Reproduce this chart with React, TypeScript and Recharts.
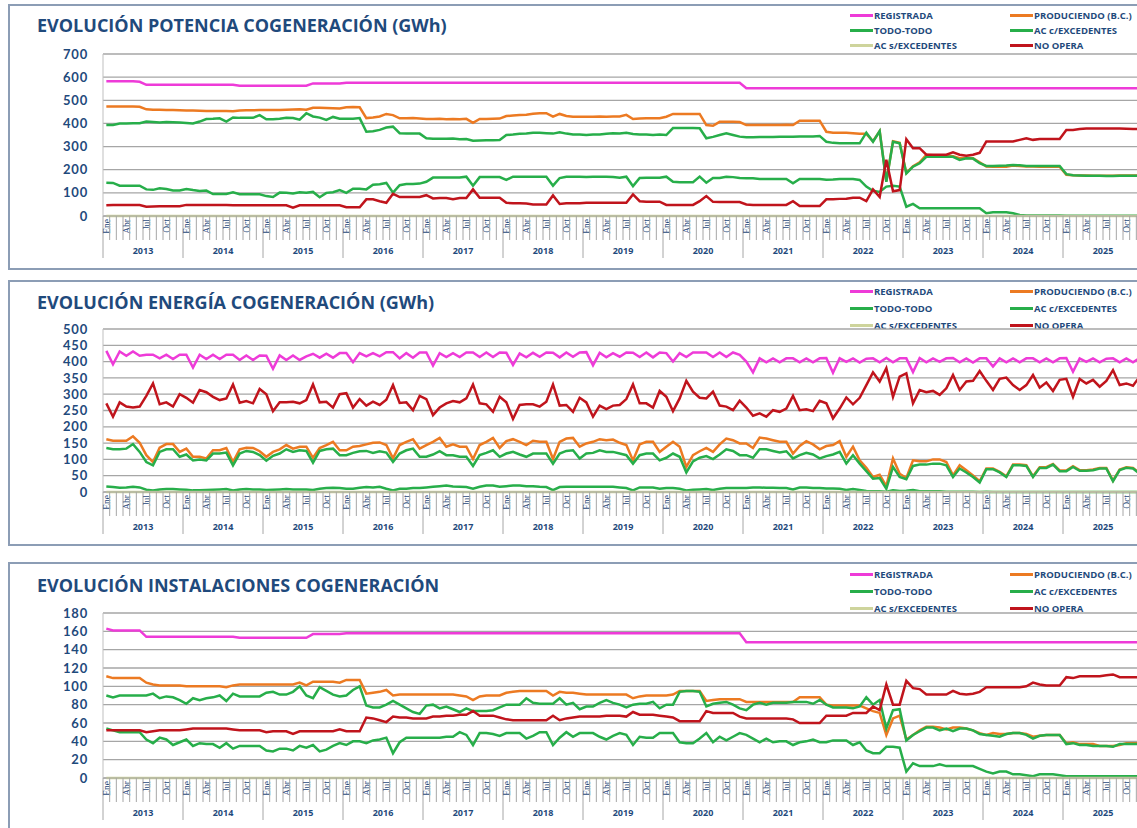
import { LineChart, Line, XAxis, YAxis, CartesianGrid } from 'recharts';

const YEARS = [2013, 2014, 2015, 2016, 2017, 2018, 2019, 2020, 2021, 2022, 2023, 2024, 2025];
const MONTHS = ['Ene', 'Feb', 'Mar', 'Abr', 'May', 'Jun', 'Jul', 'Ago', 'Sep', 'Oct', 'Nov', 'Dic'];
const LABELLED_MONTHS = ['Ene', 'Abr', 'Jul', 'Oct'];

const POT_TICKS = [0, 100, 200, 300, 400, 500, 600, 700];
const EN_TICKS = [0, 50, 100, 150, 200, 250, 300, 350, 400, 450, 500];
const INST_TICKS = [0, 20, 40, 60, 80, 100, 120, 140, 160, 180];

// one row per year, Ene..Dic
const potRegistrada = [
  582, 582, 582, 582, 582, 580, 567, 567, 567, 567, 567, 567,
  567, 567, 567, 567, 567, 567, 567, 567, 563, 563, 563, 563,
  563, 563, 563, 563, 563, 563, 563, 573, 573, 573, 573, 573,
  576, 576, 576, 576, 576, 576, 576, 576, 576, 576, 576, 576,
  576, 576, 576, 576, 576, 576, 576, 576, 576, 576, 576, 576,
  576, 576, 576, 576, 576, 576, 576, 576, 576, 576, 576, 576,
  576, 576, 576, 576, 576, 576, 576, 576, 576, 576, 576, 576,
  576, 576, 576, 576, 576, 576, 576, 576, 576, 576, 576, 576,
  552, 552, 552, 552, 552, 552, 552, 552, 552, 552, 552, 552,
  552, 552, 552, 552, 552, 552, 552, 552, 552, 552, 552, 552,
  552, 552, 552, 552, 552, 552, 552, 552, 552, 552, 552, 552,
  552, 552, 552, 552, 552, 552, 552, 552, 552, 552, 552, 552,
  552, 552, 552, 552, 552, 552, 552, 552, 552, 552, 552, 552,
];
const potProduciendo = [
  473, 473, 473, 473, 473, 472, 461, 459, 459, 458, 458, 457,
  456, 456, 455, 454, 454, 454, 454, 453, 456, 457, 457, 458,
  458, 458, 458, 459, 460, 461, 459, 468, 468, 467, 466, 465,
  470, 471, 470, 423, 426, 430, 441, 436, 422, 422, 423, 421,
  419, 419, 420, 418, 419, 418, 420, 403, 419, 419, 420, 421,
  432, 434, 436, 438, 442, 444, 444, 429, 441, 432, 429, 429,
  429, 429, 430, 429, 430, 430, 437, 419, 421, 422, 422, 422,
  429, 441, 441, 441, 441, 441, 393, 390, 407, 407, 407, 406,
  393, 393, 393, 393, 393, 393, 394, 393, 412, 412, 412, 412,
  364, 360, 360, 360, 358, 355, 355, 323, 366, 150, 323, 316,
  186, 215, 232, 264, 262, 262, 260, 258, 250, 252, 250, 232,
  214, 213, 213, 213, 218, 216, 214, 214, 213, 213, 213, 213,
  178, 176, 175, 175, 174, 174, 174, 174, 175, 175, 175, 175,
];
const potTodoTodo = [
  144, 143, 131, 131, 131, 131, 115, 113, 120, 117, 110, 110,
  117, 112, 108, 110, 95, 95, 95, 102, 94, 94, 94, 94,
  86, 82, 101, 100, 97, 103, 100, 104, 81, 100, 103, 112,
  100, 118, 118, 115, 135, 137, 143, 101, 133, 138, 138, 140,
  148, 166, 166, 166, 166, 166, 170, 131, 168, 168, 168, 168,
  156, 170, 170, 170, 170, 170, 170, 131, 164, 170, 170, 170,
  168, 170, 170, 170, 168, 165, 170, 129, 164, 165, 165, 165,
  170, 148, 146, 146, 146, 170, 144, 164, 164, 170, 168, 164,
  163, 163, 160, 160, 160, 160, 160, 141, 160, 160, 160, 160,
  157, 158, 160, 160, 160, 156, 127, 109, 104, 127, 131, 127,
  40, 52, 33, 33, 33, 33, 33, 33, 33, 33, 33, 33,
  12, 16, 16, 16, 12, 4, 2, 2, 2, 2, 2, 2,
  1, 1, 1, 1, 1, 1, 1, 1, 1, 1, 1, 1,
];
const potAcConExcedentes = [
  393, 393, 400, 400, 401, 401, 408, 406, 404, 406, 405, 404,
  402, 400, 408, 419, 420, 422, 408, 426, 424, 424, 424, 436,
  418, 418, 420, 424, 423, 416, 444, 430, 425, 415, 428, 420,
  420, 420, 423, 364, 366, 372, 382, 386, 358, 357, 357, 356,
  336, 334, 334, 334, 335, 332, 333, 325, 326, 327, 327, 328,
  350, 352, 355, 357, 360, 360, 358, 356, 362, 356, 352, 352,
  350, 352, 352, 355, 358, 356, 360, 354, 352, 352, 350, 352,
  350, 380, 380, 380, 380, 379, 336, 342, 350, 357, 350, 343,
  340, 340, 341, 341, 341, 342, 342, 342, 343, 343, 344, 346,
  321, 316, 314, 314, 314, 314, 360, 321, 367, 148, 321, 314,
  184, 213, 228, 256, 256, 256, 256, 256, 242, 249, 248, 228,
  216, 216, 217, 218, 220, 219, 216, 216, 216, 216, 216, 216,
  181, 176, 175, 174, 174, 174, 173, 173, 174, 174, 174, 174,
];
const potNoOpera = [
  46, 47, 47, 47, 47, 47, 40, 41, 42, 42, 42, 42,
  48, 48, 48, 48, 48, 48, 48, 46, 46, 46, 46, 46,
  46, 46, 46, 46, 36, 46, 46, 46, 46, 46, 46, 46,
  38, 38, 38, 72, 72, 64, 57, 96, 82, 82, 82, 82,
  90, 76, 78, 78, 72, 78, 78, 115, 79, 79, 79, 79,
  57, 55, 55, 54, 50, 50, 50, 89, 52, 55, 55, 55,
  57, 57, 57, 57, 57, 57, 57, 93, 64, 62, 62, 62,
  48, 48, 48, 48, 48, 64, 86, 61, 60, 60, 60, 60,
  50, 48, 48, 48, 48, 48, 48, 64, 43, 43, 43, 43,
  72, 72, 74, 75, 79, 79, 64, 115, 82, 243, 107, 112,
  332, 293, 293, 265, 265, 265, 265, 275, 265, 260, 265, 273,
  322, 322, 322, 322, 322, 329, 336, 329, 333, 333, 333, 333,
  372, 372, 376, 378, 378, 378, 378, 378, 378, 377, 376, 376,
];

const enRegistrada = [
  433, 392, 431, 418, 431, 418, 421, 421, 410, 421, 408, 421,
  421, 382, 421, 408, 421, 408, 421, 421, 405, 419, 405, 419,
  418, 378, 419, 405, 419, 405, 416, 424, 412, 424, 412, 426,
  426, 398, 426, 416, 426, 416, 429, 429, 410, 426, 412, 428,
  428, 388, 426, 414, 426, 414, 428, 428, 414, 428, 414, 428,
  427, 390, 425, 413, 427, 415, 428, 427, 413, 428, 415, 428,
  429, 389, 427, 413, 426, 415, 428, 427, 414, 428, 413, 428,
  426, 400, 426, 414, 428, 428, 428, 414, 428, 414, 428, 421,
  400, 367, 410, 398, 410, 398, 410, 410, 398, 410, 398, 410,
  411, 366, 410, 399, 410, 397, 409, 410, 398, 411, 398, 410,
  410, 368, 411, 398, 410, 399, 410, 411, 398, 410, 397, 410,
  410, 385, 410, 398, 410, 398, 410, 410, 398, 410, 398, 410,
  411, 369, 410, 399, 410, 398, 409, 410, 398, 410, 398, 411,
];
const enProduciendo = [
  162, 157, 157, 157, 171, 151, 113, 92, 136, 147, 147, 123,
  133, 108, 108, 103, 128, 128, 135, 92, 131, 136, 135, 125,
  108, 123, 131, 144, 133, 139, 139, 105, 135, 144, 154, 128,
  128, 139, 141, 146, 151, 152, 144, 103, 144, 154, 162, 133,
  144, 154, 166, 139, 146, 139, 139, 101, 144, 154, 166, 135,
  156, 162, 154, 144, 157, 154, 154, 101, 154, 164, 166, 139,
  149, 154, 162, 159, 161, 151, 144, 97, 146, 154, 154, 123,
  139, 154, 139, 77, 113, 125, 135, 123, 146, 164, 159, 149,
  149, 135, 167, 164, 159, 154, 154, 118, 141, 156, 146, 131,
  141, 144, 156, 108, 139, 97, 74, 46, 53, 18, 103, 56,
  43, 97, 94, 94, 100, 100, 92, 51, 82, 67, 51, 33,
  72, 72, 62, 48, 84, 84, 82, 48, 76, 76, 86, 66,
  66, 79, 67, 67, 69, 74, 74, 35, 69, 76, 74, 58,
];
const enTodoTodo = [
  17, 15, 13, 14, 16, 14, 7, 5, 8, 9, 9, 8,
  7, 5, 5, 6, 7, 8, 9, 5, 8, 9, 8, 8,
  6, 7, 8, 9, 8, 8, 8, 6, 10, 12, 13, 12,
  10, 10, 13, 15, 14, 16, 10, 5, 10, 10, 12, 12,
  14, 16, 18, 20, 17, 16, 15, 10, 16, 20, 20, 16,
  18, 20, 20, 18, 18, 16, 15, 6, 15, 16, 16, 16,
  16, 16, 16, 16, 16, 14, 12, 5, 14, 14, 14, 10,
  12, 12, 10, 5, 7, 8, 9, 6, 10, 12, 12, 12,
  12, 14, 14, 13, 13, 12, 12, 8, 14, 14, 12, 12,
  11, 11, 10, 6, 9, 6, 3, 2, 2, 1, 5, 3,
  4, 6, 2, 2, 2, 2, 1, 1, 1, 1, 1, 0,
  1, 0, 0, 0, 0, 0, 0, 0, 0, 0, 0, 0,
  0, 0, 0, 0, 0, 0, 0, 0, 0, 0, 0, 0,
];
const enAcConExcedentes = [
  135, 131, 131, 133, 147, 123, 92, 82, 123, 131, 131, 108,
  115, 97, 100, 97, 118, 118, 121, 82, 118, 126, 123, 113,
  96, 111, 118, 131, 123, 128, 126, 90, 126, 131, 133, 113,
  113, 120, 125, 126, 120, 125, 121, 92, 118, 128, 133, 108,
  108, 115, 125, 113, 113, 108, 108, 80, 113, 120, 128, 108,
  118, 123, 115, 108, 118, 118, 118, 87, 118, 126, 128, 103,
  118, 120, 128, 123, 123, 118, 113, 87, 113, 118, 118, 97,
  105, 118, 108, 60, 94, 105, 110, 101, 115, 131, 126, 113,
  113, 105, 131, 131, 126, 121, 125, 103, 113, 120, 115, 103,
  110, 115, 123, 87, 113, 87, 64, 41, 43, 10, 77, 46,
  39, 80, 84, 84, 87, 87, 82, 46, 72, 60, 46, 29,
  70, 70, 60, 46, 82, 82, 80, 46, 74, 74, 84, 64,
  64, 77, 65, 65, 67, 72, 72, 33, 67, 74, 72, 56,
];
const enNoOpera = [
  272, 231, 275, 262, 259, 262, 295, 333, 269, 275, 262, 300,
  289, 274, 313, 306, 292, 282, 287, 330, 274, 279, 272, 316,
  300, 248, 275, 275, 277, 272, 282, 330, 275, 277, 259, 300,
  303, 259, 285, 265, 277, 267, 283, 328, 273, 275, 251, 295,
  285, 236, 259, 272, 279, 275, 287, 330, 272, 269, 246, 292,
  275, 224, 267, 269, 269, 262, 277, 330, 265, 267, 246, 289,
  275, 231, 265, 254, 265, 267, 285, 330, 272, 272, 259, 310,
  292, 248, 287, 341, 308, 289, 287, 308, 265, 262, 251, 280,
  259, 234, 241, 231, 251, 246, 256, 295, 251, 254, 248, 280,
  272, 226, 256, 290, 269, 289, 328, 367, 339, 380, 292, 354,
  364, 272, 313, 306, 310, 298, 318, 359, 313, 339, 341, 371,
  341, 313, 347, 351, 328, 313, 328, 359, 320, 336, 310, 344,
  347, 292, 347, 333, 344, 323, 341, 374, 328, 333, 326, 354,
];

const instRegistrada = [
  163, 161, 161, 161, 161, 161, 154, 154, 154, 154, 154, 154,
  154, 154, 154, 154, 154, 154, 154, 154, 153, 153, 153, 153,
  153, 153, 153, 153, 153, 153, 153, 157, 157, 157, 157, 157,
  158, 158, 158, 158, 158, 158, 158, 158, 158, 158, 158, 158,
  158, 158, 158, 158, 158, 158, 158, 158, 158, 158, 158, 158,
  158, 158, 158, 158, 158, 158, 158, 158, 158, 158, 158, 158,
  158, 158, 158, 158, 158, 158, 158, 158, 158, 158, 158, 158,
  158, 158, 158, 158, 158, 158, 158, 158, 158, 158, 158, 158,
  148, 148, 148, 148, 148, 148, 148, 148, 148, 148, 148, 148,
  148, 148, 148, 148, 148, 148, 148, 148, 148, 148, 148, 148,
  148, 148, 148, 148, 148, 148, 148, 148, 148, 148, 148, 148,
  148, 148, 148, 148, 148, 148, 148, 148, 148, 148, 148, 148,
  148, 148, 148, 148, 148, 148, 148, 148, 148, 148, 148, 148,
];
const instProduciendo = [
  111, 109, 109, 109, 109, 109, 104, 102, 101, 101, 101, 101,
  100, 100, 100, 100, 100, 100, 99, 101, 102, 102, 102, 102,
  102, 102, 102, 102, 102, 104, 101, 105, 105, 105, 105, 104,
  107, 107, 107, 92, 93, 94, 96, 90, 91, 91, 91, 91,
  91, 91, 91, 91, 91, 90, 89, 85, 89, 90, 90, 90,
  93, 94, 95, 95, 95, 95, 95, 90, 94, 93, 93, 92,
  91, 91, 91, 91, 91, 91, 91, 87, 89, 90, 90, 90,
  90, 91, 95, 95, 95, 95, 84, 85, 86, 86, 86, 86,
  83, 83, 83, 83, 83, 83, 83, 83, 88, 88, 88, 88,
  80, 79, 79, 79, 79, 79, 76, 73, 71, 47, 65, 68,
  42, 47, 52, 56, 56, 55, 53, 55, 55, 54, 52, 49,
  47, 49, 48, 48, 49, 49, 48, 45, 46, 47, 47, 47,
  38, 39, 37, 37, 37, 35, 35, 35, 36, 38, 38, 38,
];
const instTodoTodo = [
  54, 52, 50, 50, 50, 50, 42, 38, 44, 42, 36, 39,
  42, 35, 38, 37, 37, 33, 38, 32, 35, 35, 35, 35,
  30, 29, 32, 32, 30, 35, 33, 36, 29, 31, 35, 38,
  36, 40, 40, 38, 41, 42, 44, 27, 39, 44, 44, 44,
  44, 44, 44, 45, 45, 50, 47, 36, 49, 49, 48, 46,
  49, 49, 49, 43, 46, 50, 50, 36, 44, 50, 45, 49,
  49, 49, 45, 42, 46, 49, 47, 36, 45, 44, 44, 49,
  49, 49, 39, 38, 38, 43, 49, 39, 45, 41, 45, 49,
  47, 43, 39, 43, 39, 40, 40, 36, 39, 40, 42, 39,
  39, 41, 41, 41, 36, 39, 30, 27, 27, 34, 34, 33,
  7, 16, 13, 13, 13, 15, 13, 13, 13, 13, 13, 10,
  7, 5, 7, 7, 4, 4, 3, 2, 4, 4, 4, 3,
  2, 2, 2, 2, 2, 2, 2, 2, 2, 2, 2, 2,
];
const instAcConExcedentes = [
  90, 88, 90, 90, 90, 90, 90, 92, 87, 89, 88, 85,
  81, 87, 85, 87, 88, 90, 84, 92, 89, 89, 89, 89,
  93, 94, 91, 91, 94, 100, 90, 87, 99, 95, 91, 89,
  90, 96, 100, 79, 77, 77, 80, 84, 80, 76, 72, 70,
  79, 80, 76, 78, 75, 72, 76, 73, 73, 73, 74, 77,
  80, 80, 80, 87, 82, 81, 81, 81, 87, 80, 82, 75,
  78, 78, 82, 85, 82, 80, 77, 80, 81, 81, 83, 76,
  80, 80, 94, 95, 95, 94, 78, 81, 82, 83, 80, 76,
  74, 80, 82, 80, 82, 82, 82, 83, 83, 83, 81, 85,
  80, 77, 77, 77, 76, 78, 88, 80, 85, 54, 74, 75,
  41, 47, 51, 55, 55, 52, 54, 51, 54, 54, 52, 48,
  47, 46, 45, 48, 49, 49, 47, 43, 46, 47, 47, 47,
  37, 38, 36, 36, 35, 35, 35, 34, 37, 37, 37, 37,
];
const instNoOpera = [
  52, 52, 52, 52, 52, 52, 50, 51, 52, 52, 52, 52,
  53, 54, 54, 54, 54, 54, 54, 53, 52, 52, 52, 52,
  50, 51, 51, 51, 48, 51, 51, 51, 51, 51, 51, 53,
  51, 51, 51, 66, 65, 63, 61, 67, 66, 66, 65, 65,
  65, 67, 67, 68, 68, 69, 69, 73, 68, 68, 68, 66,
  64, 63, 63, 63, 63, 63, 63, 68, 63, 65, 66, 67,
  67, 67, 67, 68, 68, 68, 67, 72, 69, 69, 69, 68,
  67, 66, 62, 62, 62, 62, 73, 71, 71, 71, 71, 67,
  65, 65, 65, 65, 65, 65, 65, 64, 60, 60, 60, 60,
  68, 68, 68, 68, 71, 71, 71, 78, 74, 102, 80, 80,
  106, 98, 97, 91, 91, 91, 91, 95, 92, 91, 92, 94,
  99, 99, 99, 99, 99, 99, 100, 104, 102, 101, 101, 101,
  110, 109, 111, 111, 111, 111, 112, 113, 110, 110, 110, 110,
];

// AC s/EXCEDENTES sits on zero in all three charts
const acSinExcedentes = [
  0, 0, 0, 0, 0, 0, 0, 0, 0, 0, 0, 0,
  0, 0, 0, 0, 0, 0, 0, 0, 0, 0, 0, 0,
  0, 0, 0, 0, 0, 0, 0, 0, 0, 0, 0, 0,
  0, 0, 0, 0, 0, 0, 0, 0, 0, 0, 0, 0,
  0, 0, 0, 0, 0, 0, 0, 0, 0, 0, 0, 0,
  0, 0, 0, 0, 0, 0, 0, 0, 0, 0, 0, 0,
  0, 0, 0, 0, 0, 0, 0, 0, 0, 0, 0, 0,
  0, 0, 0, 0, 0, 0, 0, 0, 0, 0, 0, 0,
  0, 0, 0, 0, 0, 0, 0, 0, 0, 0, 0, 0,
  0, 0, 0, 0, 0, 0, 0, 0, 0, 0, 0, 0,
  0, 0, 0, 0, 0, 0, 0, 0, 0, 0, 0, 0,
  0, 0, 0, 0, 0, 0, 0, 0, 0, 0, 0, 0,
  0, 0, 0, 0, 0, 0, 0, 0, 0, 0, 0, 0,
];

const SERIES = [
  { key: 'registrada', name: 'REGISTRADA', color: '#EE3BD8' },
  { key: 'produciendo', name: 'PRODUCIENDO (B.C.)', color: '#EC7A22' },
  { key: 'todoTodo', name: 'TODO-TODO', color: '#27AE4A' },
  { key: 'acCon', name: 'AC c/EXCEDENTES', color: '#27AE4A' },
  { key: 'acSin', name: 'AC s/EXCEDENTES', color: '#CED49C' },
  { key: 'noOpera', name: 'NO OPERA', color: '#C0141C' },
];

const INK = '#1F4A7C';
const GRID = '#A6A6A6';
const SANS = "'Open Sans', sans-serif";
const PLOT_LEFT = 103;
const PLOT_WIDTH = 1040;
const CHART_WIDTH = 1150;
const AXIS_HEIGHT = 50;
const STEP = PLOT_WIDTH / (YEARS.length * 12);

function buildRows(cols: Record<string, number[]>) {
  return YEARS.flatMap((year, yi) =>
    MONTHS.map((month, mi) => {
      const i = yi * 12 + mi;
      const row: Record<string, number | string> = { i, year, month };
      SERIES.forEach((s) => {
        row[s.key] = cols[s.key][i];
      });
      return row;
    })
  );
}

const PANELS = [
  {
    title: 'EVOLUCIÓN POTENCIA COGENERACIÓN (GWh)',
    top: 4, boxHeight: 266, plotTop: 50, plotHeight: 162,
    titleTop: 15, legendRows: [15.5, 30.5, 45.5],
    ticks: POT_TICKS,
    rows: buildRows({
      registrada: potRegistrada, produciendo: potProduciendo, todoTodo: potTodoTodo,
      acCon: potAcConExcedentes, acSin: acSinExcedentes, noOpera: potNoOpera,
    }),
  },
  {
    title: 'EVOLUCIÓN ENERGÍA COGENERACIÓN (GWh)',
    top: 280, boxHeight: 266, plotTop: 49, plotHeight: 163,
    titleTop: 292, legendRows: [291.5, 308, 325],
    ticks: EN_TICKS,
    rows: buildRows({
      registrada: enRegistrada, produciendo: enProduciendo, todoTodo: enTodoTodo,
      acCon: enAcConExcedentes, acSin: acSinExcedentes, noOpera: enNoOpera,
    }),
  },
  {
    title: 'EVOLUCIÓN INSTALACIONES COGENERACIÓN',
    top: 562, boxHeight: 290, plotTop: 51, plotHeight: 165,
    titleTop: 575, legendRows: [574, 591, 608],
    ticks: INST_TICKS,
    rows: buildRows({
      registrada: instRegistrada, produciendo: instProduciendo, todoTodo: instTodoTodo,
      acCon: instAcConExcedentes, acSin: acSinExcedentes, noOpera: instNoOpera,
    }),
  },
];

function MonthTick(props: any) {
  const { x, y, payload } = props;
  const i = payload.value as number;
  const month = MONTHS[i % 12];
  const edge = x - STEP / 2;
  const yearStart = i % 12 === 0;
  return (
    <g>
      <line x1={edge} x2={edge} y1={y} y2={y + (yearStart ? 42 : 24)} stroke={GRID} strokeWidth={1} />
      {LABELLED_MONTHS.includes(month) && (
        <text
          transform={`translate(${x + 3.2},${y + 3}) rotate(-90)`}
          textAnchor="end"
          fontFamily="'Liberation Serif', serif"
          fontSize={9.5}
          fill={INK}
        >
          {month}
        </text>
      )}
      {yearStart && (
        <text x={edge + STEP * 6} y={y + 38} textAnchor="middle" fontFamily={SANS} fontWeight={700} fontSize={9} fill={INK}>
          {YEARS[i / 12]}
        </text>
      )}
    </g>
  );
}

function LegendBlock({ rows }: { rows: number[] }) {
  return (
    <>
      {SERIES.map((s, idx) => (
        <div
          key={s.key}
          style={{
            position: 'absolute',
            left: idx % 2 === 0 ? 850 : 1010,
            top: rows[Math.floor(idx / 2)] - 7,
            height: 14,
            display: 'flex',
            alignItems: 'center',
            whiteSpace: 'nowrap',
          }}
        >
          <span style={{ display: 'inline-block', width: 23, height: 3, background: s.color }} />
          <span style={{ marginLeft: 1, fontFamily: SANS, fontWeight: 700, fontSize: 9.5, color: INK }}>{s.name}</span>
        </div>
      ))}
    </>
  );
}

function Panel({ p }: { p: (typeof PANELS)[number] }) {
  const yMax = p.ticks[p.ticks.length - 1];
  return (
    <>
      <div
        style={{
          position: 'absolute', left: 8, top: p.top, width: 1160, height: p.boxHeight,
          border: '2px solid #8C9DB5', boxSizing: 'border-box',
        }}
      />
      <div
        style={{
          position: 'absolute', left: 37, top: p.titleTop, fontFamily: SANS, fontWeight: 700,
          fontSize: 18, lineHeight: '20px', color: INK, whiteSpace: 'nowrap',
        }}
      >
        {p.title}
      </div>
      <LegendBlock rows={p.legendRows} />
      <div style={{ position: 'absolute', left: 0, top: p.top }}>
        <LineChart
          width={CHART_WIDTH}
          height={p.plotTop + p.plotHeight + AXIS_HEIGHT + 4}
          data={p.rows}
          margin={{ top: p.plotTop, right: CHART_WIDTH - PLOT_LEFT - PLOT_WIDTH, bottom: 4, left: 0 }}
        >
          <CartesianGrid vertical={false} stroke={GRID} strokeWidth={1.3} />
          <XAxis
            type="number"
            dataKey="i"
            domain={[-0.5, p.rows.length - 0.5]}
            ticks={p.rows.map((r) => r.i as number)}
            interval={0}
            tick={(tp: any) => <MonthTick {...tp} />}
            tickLine={false}
            tickSize={0}
            tickMargin={0}
            axisLine={{ stroke: GRID }}
            height={AXIS_HEIGHT}
          />
          <YAxis
            type="number"
            domain={[0, yMax]}
            ticks={p.ticks}
            interval={0}
            width={PLOT_LEFT}
            tickLine={false}
            tickSize={0}
            tickMargin={15}
            axisLine={{ stroke: '#BFBFBF' }}
            tick={{ fill: INK, fontSize: 13, fontWeight: 700, fontFamily: "Lato, sans-serif", letterSpacing: 0.8 }}
          />
          {SERIES.map((s) => (
            <Line
              key={s.key}
              type="linear"
              dataKey={s.key}
              name={s.name}
              stroke={s.color}
              strokeWidth={2.5}
              dot={false}
              activeDot={false}
              isAnimationActive={false}
            />
          ))}
        </LineChart>
      </div>
    </>
  );
}

export default function App() {
  return (
    <div style={{ position: 'relative', width: 1137, height: 828, overflow: 'hidden', background: '#fff' }}>
      <style>{'body{margin:0;overflow:hidden}'}</style>
      {PANELS.map((p) => (
        <Panel key={p.title} p={p} />
      ))}
    </div>
  );
}
